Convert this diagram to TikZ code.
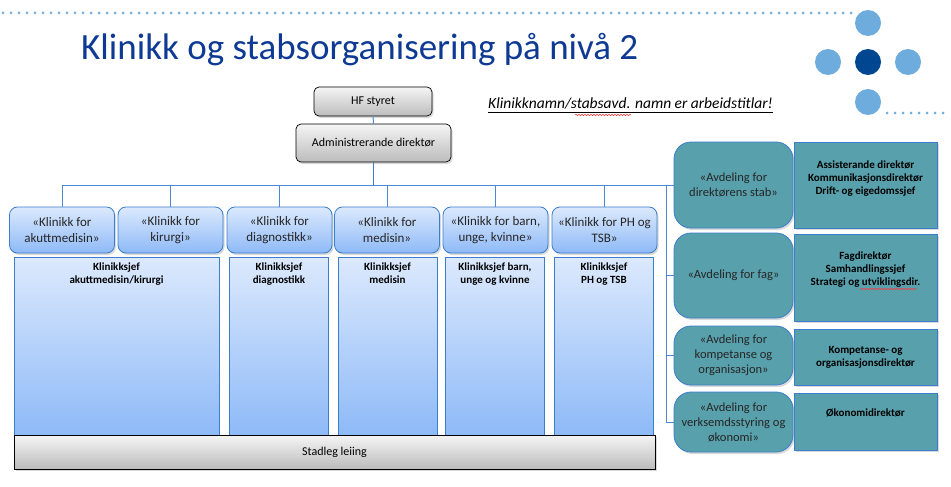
\documentclass[tikz,border=0pt]{standalone}
\usepackage{fontspec}
\setmainfont{Carlito}
\usetikzlibrary{positioning,shadows,decorations.pathmorphing}

\definecolor{titleblue}{RGB}{14,58,148}
\definecolor{dotblue}{RGB}{111,172,222}
\definecolor{dotdark}{RGB}{0,70,145}
\definecolor{linkblue}{RGB}{72,138,212}
\definecolor{edgeblue}{RGB}{58,126,205}
\definecolor{cliniclight}{RGB}{220,233,253}
\definecolor{clinicdark}{RGB}{142,186,247}
\definecolor{staffteal}{RGB}{88,160,172}
\definecolor{greylight}{RGB}{245,245,245}
\definecolor{greydark}{RGB}{188,188,188}

\begin{document}
\begin{tikzpicture}[x=1pt,y=-1pt,%
            myshadow/.style={drop shadow={shadow xshift=1.5pt, shadow yshift=-2pt, opacity=0.3}},
            mygrey/.style={draw=black, line width=0.7pt, rounded corners=5pt, top color=greylight,
                bottom color=greydark, font=\fontsize{12}{14}\selectfont, myshadow},
            myclinic/.style={draw=edgeblue, line width=0.8pt, rounded corners=8pt, top color=cliniclight,
                bottom color=clinicdark, align=center, minimum width=105, minimum height=46,
                font=\fontsize{13}{16}\selectfont, text=black!85, myshadow},
            mychief/.style={draw=edgeblue, line width=0.8pt, top color=cliniclight, bottom color=clinicdark,
                minimum height=178},
            mycheftext/.style={inner sep=0pt, align=center, font=\bfseries\fontsize{11}{12.5}\selectfont},
            mystaff/.style={draw=edgeblue, line width=0.8pt, rounded corners=17pt, fill=staffteal,
                align=center, minimum width=119, font=\fontsize{12.5}{15}\selectfont, text=black!85, myshadow},
            myrole/.style={draw=edgeblue, line width=0.8pt, fill=staffteal, align=center, minimum width=143,
                font=\bfseries\fontsize{11}{13}\selectfont, myshadow},
            mylink/.style={draw=linkblue, line width=1pt},
            mysquiggle/.style={draw=red!80, line width=0.5pt,
                decorate, decoration={snake, segment length=3pt, amplitude=0.7pt}}
        ]
        \useasboundingbox (0,0) rectangle (951,487);

        \foreach \x in {3,11,...,851} \fill[dotblue] (\x,13) circle[radius=1.5];
        \foreach \x in {887,895,...,950} \fill[dotblue] (\x,113) circle[radius=1.5];
        \fill[dotblue] (868,23) circle[radius=13]
                       (828,62) circle[radius=13]
                       (908,62) circle[radius=13]
                       (868,102) circle[radius=13];
        \fill[dotdark] (868,62) circle[radius=13];

        \node[anchor=base west, inner sep=0pt, text=titleblue, font=\fontsize{37}{40}\selectfont]
            (title) at (81,60) {Klinikk og stabsorganisering på nivå 2};
        \node[anchor=base west, inner sep=0pt, font=\itshape\fontsize{15.5}{18}\selectfont]
            (note) at (488,108) {Klinikknamn/stabsavd. namn er arbeidstitlar!};
        \draw[line width=0.8pt] ([yshift=-4pt]note.base west) -- ([yshift=-4pt]note.base east);
        \draw[mysquiggle] (575,115) -- (631,115);

        \node[mygrey, minimum width=118, minimum height=29] (HF) at (373,101.5) {HF styret};
        \node[mygrey, minimum width=155, minimum height=38] (AD) at (373.5,143) {Administrerande direktør};

        \node[myclinic] (K1) at (62,230)    {«Klinikk for\\akuttmedisin»};
        \node[myclinic] (K2) at (170.5,230) {«Klinikk for\\kirurgi»};
        \node[myclinic] (K3) at (279.5,230) {«Klinikk for\\diagnostikk»};
        \node[myclinic] (K4) at (387,230)   {«Klinikk for\\medisin»};
        \node[myclinic] (K5) at (495.5,230) {«Klinikk for barn,\\unge, kvinne»};
        \node[myclinic] (K6) at (604.5,230) {«Klinikk for PH og\\TSB»};

        \node[mychief, minimum width=205] (C1) at (116.5,346) {};
        \node[mychief, minimum width=99]  (C2) at (279,346)   {};
        \node[mychief, minimum width=99]  (C3) at (387.5,346) {};
        \node[mychief, minimum width=99]  (C4) at (495,346)   {};
        \node[mychief, minimum width=99]  (C5) at (604,346)   {};
        \node[mycheftext, below=6pt of C1.north] (C1t) {Klinikksjef\\akuttmedisin/kirurgi};
        \node[mycheftext, below=6pt of C2.north] (C2t) {Klinikksjef\\diagnostikk};
        \node[mycheftext, below=6pt of C3.north] (C3t) {Klinikksjef\\medisin};
        \node[mycheftext, below=6pt of C4.north] (C4t) {Klinikksjef barn,\\unge og kvinne};
        \node[mycheftext, below=6pt of C5.north] (C5t) {Klinikksjef\\PH og TSB};

        \node[mygrey, rounded corners=0pt, minimum width=641, minimum height=34] (SL) at (334.5,452) {Stadleg leiing};

        \node[mystaff, minimum height=86] (S1) at (733.5,185)   {«Avdeling for\\direktørens stab»};
        \node[mystaff, minimum height=85] (S2) at (733.5,275.5) {«Avdeling for fag»};
        \node[mystaff, minimum height=59] (S3) at (733.5,355.5) {«Avdeling for\\kompetanse og\\organisasjon»};
        \node[mystaff, minimum height=60] (S4) at (733.5,422)   {«Avdeling for\\verksemdsstyring og\\økonomi»};

        \node[myrole, minimum height=86] (R1) at (865.5,185)   {Assisterande direktør\\Kommunikasjonsdirektør\\Drift- og eigedomssjef\\[2pt]};
        \node[myrole, minimum height=87] (R2) at (865.5,277.5) {Fagdirektør\\Samhandlingssjef\\Strategi og utviklingsdir.\\[4pt]};
        \node[myrole, minimum height=56] (R3) at (865.5,357)   {Kompetanse- og\\organisasjonsdirektør};
        \node[myrole, minimum height=57] (R4) at (865.5,421.5) {Økonomidirektør\\[4pt]};
        \draw[mysquiggle] (860,289) -- (917,289);

        \coordinate (rail) at (666,185);
        \draw[mylink] (HF.south) -- (AD.north);
        \draw[mylink, line width=1.6pt, draw=edgeblue] (AD.south) -- (AD.south |- S1.west);
        \draw[mylink] (K1.north) |- (S1.west);
        \draw[mylink] (K2.north) -- (K2.north |- S1.west);
        \draw[mylink] (K3.north) -- (K3.north |- S1.west);
        \draw[mylink] (K4.north) -- (K4.north |- S1.west);
        \draw[mylink] (K5.north) -- (K5.north |- S1.west);
        \draw[mylink] (K6.north) -- (K6.north |- S1.west);
        \draw[mylink] (rail) |- (S4.west);
        \draw[mylink] (rail |- S2.west) -- (S2.west);
        \draw[mylink] (rail |- S3.west) -- (S3.west);
    \end{tikzpicture}
\end{document}
